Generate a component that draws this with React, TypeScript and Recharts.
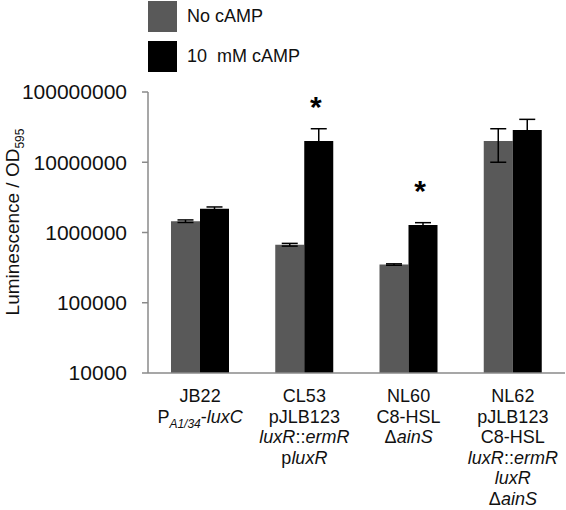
import { BarChart, Bar, XAxis, YAxis, ErrorBar, LabelList, Legend, Label } from 'recharts';

const strains = ['JB22', 'CL53', 'NL60', 'NL62'];
const noCamp = [1450000, 670000, 350000, 20000000];
const noCampErr = [60000, 30000, 8000, 10000000];
const withCamp = [2180000, 20000000, 1280000, 28800000];
const withCampErr = [130000, 10000000, 100000, 12000000];
const significant = ['', '*', '*', ''];
const yTicks = [10000, 100000, 1000000, 10000000, 100000000];

// each line is a list of [text, style]; n = normal, i = italic, s = italic subscript
const strainLabels: [string, string][][][] = [
  [[['JB22', 'n']], [['P', 'n'], ['A1/34', 's'], ['-', 'n'], ['luxC', 'i']]],
  [[['CL53', 'n']], [['pJLB123', 'n']], [['luxR', 'i'], ['::', 'n'], ['ermR', 'i']], [['p', 'n'], ['luxR', 'i']]],
  [[['NL60', 'n']], [['C8-HSL', 'n']], [['Δ', 'n'], ['ainS', 'i']]],
  [
    [['NL62', 'n']],
    [['pJLB123', 'n']],
    [['C8-HSL', 'n']],
    [['luxR', 'i'], ['::', 'n'], ['ermR', 'i']],
    [['luxR', 'i']],
    [['Δ', 'n'], ['ainS', 'i']],
  ],
];

const rows = strains.map((s, i) => ({
  strain: s,
  noCamp: noCamp[i],
  noCampErr: noCampErr[i],
  withCamp: withCamp[i],
  withCampErr: withCampErr[i],
  sig: significant[i],
}));

const FONT = '"Liberation Sans", Arial, sans-serif';
const GREY = '#595959';
const AXIS = '#8a8a8a';

function StrainTick({ x, y, payload }: any) {
  const lines = strainLabels[strains.indexOf(payload.value)] || [];
  return (
    <text x={x} y={y + 21} textAnchor="middle" fontSize={18} fill="#111" fontFamily={FONT}>
      {lines.map((line, li) => (
        <tspan key={li} x={x} dy={li === 0 ? 0 : 20.6}>
          {line.map(([t, st], si) => {
            if (st === 's') {
              return (
                <tspan key={si} fontStyle="italic" fontSize={12} dy={5}>
                  {t}
                </tspan>
              );
            }
            const prevSub = si > 0 && line[si - 1][1] === 's';
            return (
              <tspan key={si} fontStyle={st === 'i' ? 'italic' : 'normal'} dy={prevSub ? -5 : undefined}>
                {t}
              </tspan>
            );
          })}
        </tspan>
      ))}
    </text>
  );
}

function ValueTick({ x, y, payload }: any) {
  return (
    <text x={x + 9} y={y} dy="0.355em" textAnchor="end" fontSize={21} fill="#111" fontFamily={FONT}>
      {payload.value}
    </text>
  );
}

function Star(props: any) {
  const { x, y, width, value } = props;
  if (!value) return null;
  return (
    <text x={x + width / 2 - 3} y={y - 24} textAnchor="middle" fontSize={30} fontWeight="bold" fill="#000" fontFamily={FONT}>
      {value}
    </text>
  );
}

function LegendBox() {
  const items = [
    { label: 'No cAMP', color: GREY },
    { label: '10  mM cAMP', color: '#000' },
  ];
  return (
    <div style={{ fontFamily: FONT, fontSize: 18, color: '#111' }}>
      {items.map((it) => (
        <div key={it.label} style={{ display: 'flex', alignItems: 'center', height: 31, marginBottom: 9 }}>
          <div style={{ width: 29, height: 31, background: it.color, marginRight: 10 }} />
          <span style={{ whiteSpace: 'pre' }}>{it.label}</span>
        </div>
      ))}
    </div>
  );
}

export default function App() {
  return (
    <div style={{ position: 'absolute', left: 0, top: 0, width: 566, height: 510, background: '#fff' }}>
      <BarChart width={566} height={510} data={rows} margin={{ top: 92, right: 1, left: 0, bottom: 0 }} barGap={0}>
        <XAxis
          dataKey="strain"
          height={137}
          axisLine={{ stroke: AXIS, strokeWidth: 1.5 }}
          tickLine={false}
          tick={<StrainTick />}
          interval={0}
        />
        <YAxis
          scale="log"
          domain={[10000, 100000000]}
          ticks={yTicks}
          allowDataOverflow
          width={148}
          tickSize={6}
          tickMargin={24}
          axisLine={{ stroke: AXIS, strokeWidth: 1.5 }}
          tickLine={{ stroke: AXIS, strokeWidth: 1.5 }}
          tick={<ValueTick />}
        >
          <Label
            content={() => (
              <text x={19} y={222} transform="rotate(-90, 19, 222)" textAnchor="middle" fontSize={19} fill="#111" fontFamily={FONT}>
                Luminescence / OD
                <tspan fontSize={12} dy={5}>595</tspan>
              </text>
            )}
          />
        </YAxis>
        <Legend
          verticalAlign="middle"
          align="center"
          wrapperStyle={{ top: 1, left: 148, width: 'auto', height: 'auto' }}
          content={() => <LegendBox />}
        />
        <Bar dataKey="noCamp" name="No cAMP" fill={GREY} barSize={29} isAnimationActive={false}>
          <ErrorBar dataKey="noCampErr" width={8} stroke="#000" strokeWidth={1.5} direction="y" />
        </Bar>
        <Bar dataKey="withCamp" name="10 mM cAMP" fill="#000" barSize={29} isAnimationActive={false}>
          <ErrorBar dataKey="withCampErr" width={8} stroke="#000" strokeWidth={1.5} direction="y" />
          <LabelList dataKey="sig" content={<Star />} />
        </Bar>
      </BarChart>
    </div>
  );
}
